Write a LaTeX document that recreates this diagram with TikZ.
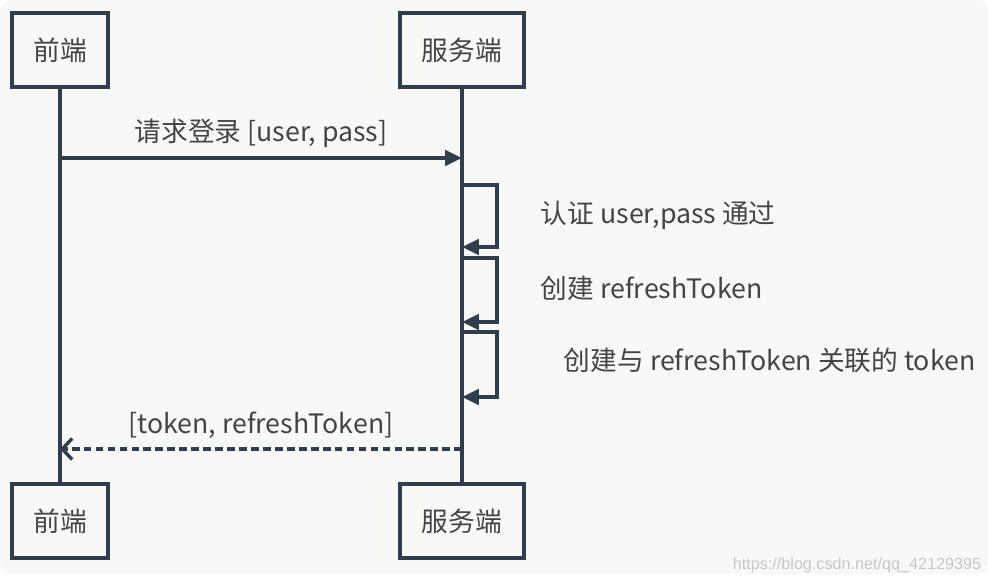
\documentclass[tikz,border=0pt]{standalone}
\usepackage{fontspec}
\usepackage{xcolor}
\usepackage{tikz}
\usetikzlibrary{arrows.meta}
\setmainfont{Liberation Sans}
\newfontfamily\cjk{Noto Sans CJK SC}
\definecolor{seqline}{HTML}{2F3D4C}
\definecolor{seqtext}{HTML}{444444}
\definecolor{seqbg}{HTML}{F8F8F6}

\begin{document}
\begin{tikzpicture}[x=0.025cm, y=-0.025cm,
  every node/.style={font=\fontsize{19}{22}\selectfont\cjk, text=seqtext},
  actor/.style={draw=seqline, line width=2.6pt, fill=seqbg, minimum height=1.85cm},
  msg/.style={draw=seqline, line width=2.6pt, -{Triangle[length=12pt, width=11pt]}},
  reply/.style={draw=seqline, line width=2.6pt, dash pattern=on 5.5pt off 3pt, -{Straight Barb[length=7pt, width=15pt, line width=2.4pt]}}]
  \useasboundingbox (0,0) rectangle (988,584);
  \fill[seqbg, rounded corners=8pt] (0,0) rectangle (988,574);

  % actors
  \node[actor, minimum width=2.4cm] (fe) at (60,50) {前端};
  \node[actor, minimum width=3.1cm] (be) at (462,50) {服务端};
  \node[actor, minimum width=2.4cm] (feb) at (60,521) {前端};
  \node[actor, minimum width=3.1cm] (beb) at (462,521) {服务端};

  % lifelines
  \draw[seqline, line width=2.6pt] (fe) -- (feb);
  \draw[seqline, line width=2.6pt] (be) -- (beb);

  \coordinate (req0) at (60,158);
  \coordinate (req1) at (462,158);
  \coordinate (auth0) at (462,185);
  \coordinate (auth1) at (462,247);
  \coordinate (mkr0) at (462,258);
  \coordinate (mkr1) at (462,322);
  \coordinate (mkt0) at (462,332);
  \coordinate (mkt1) at (462,397);
  \coordinate (ret0) at (462,449);
  \coordinate (ret1) at (60,449);

  \draw[msg] (req0) -- node[above=3pt] {请求登录 [user, pass]} (req1);
  \draw[msg] (auth0) -- ++(35,0) |- (auth1);
  \draw[msg] (mkr0) -- ++(35,0) |- (mkr1);
  \draw[msg] (mkt0) -- ++(35,0) |- (mkt1);
  \node[anchor=west] (authlbl) at (536,215) {认证 user,pass 通过};
  \node[anchor=west] (mkrlbl) at (536,288) {创建 refreshToken};
  \node[anchor=west] (mktlbl) at (559,360) {创建与 refreshToken 关联的 token};
  \draw[reply] (ret0) -- node[above=3pt] {[token, refreshToken]} (ret1);

  \node[anchor=east, text=black!22, font=\fontsize{11.5}{13}\selectfont] (mark) at (986,565) {https://blog.csdn.net/qq\_42129395};
\end{tikzpicture}
\end{document}
